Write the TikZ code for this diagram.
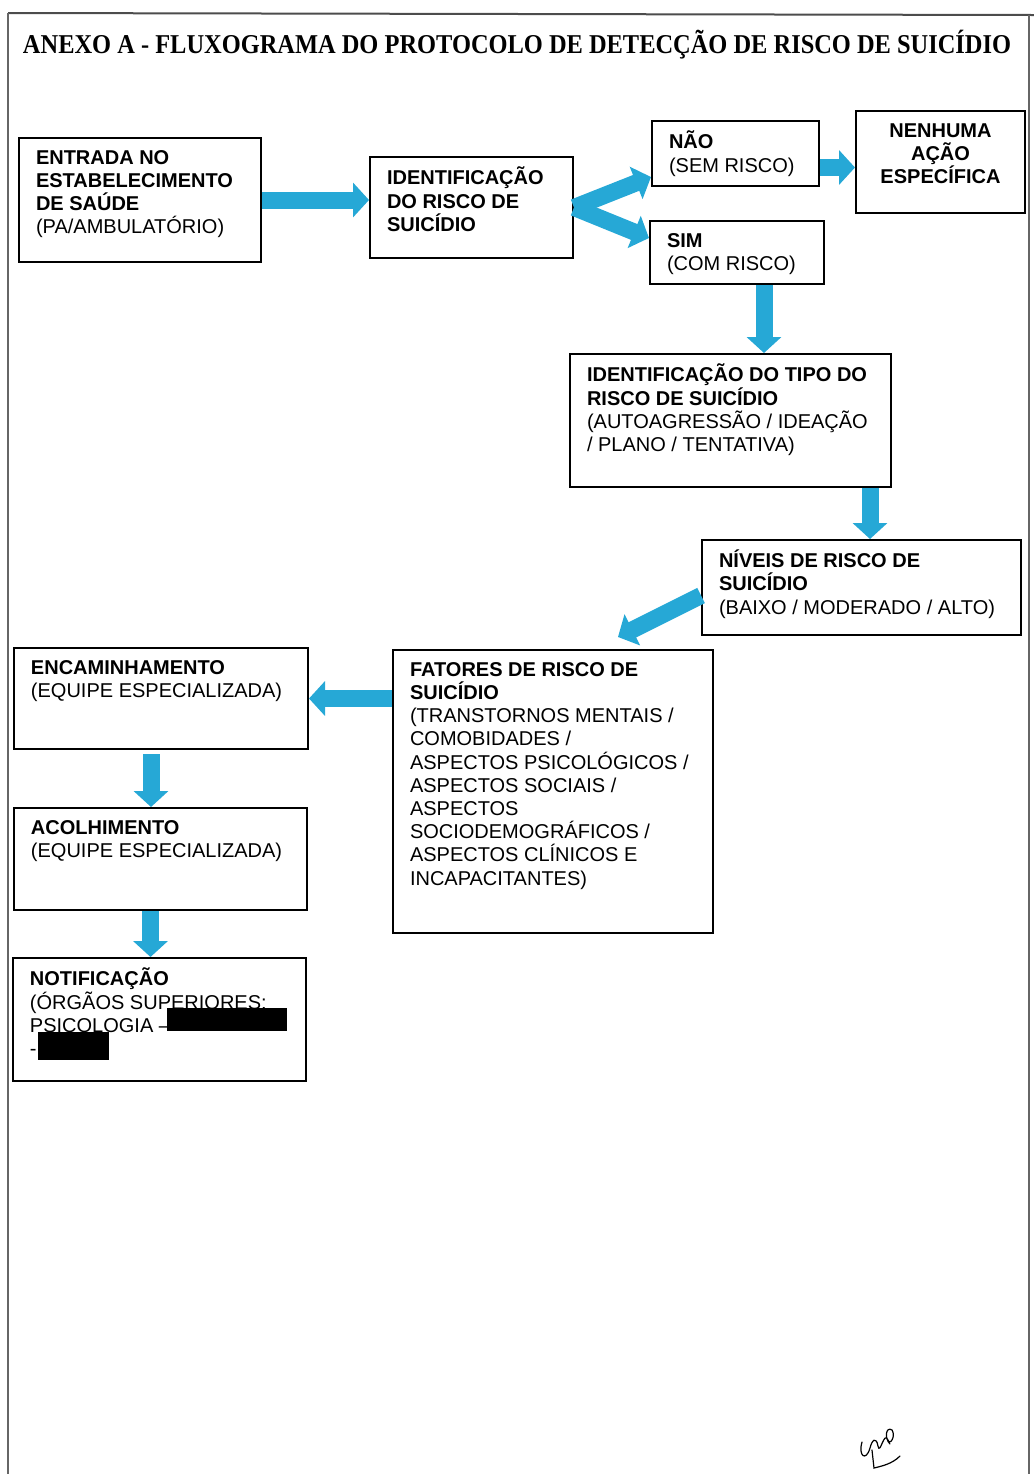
\documentclass[tikz,border=0pt]{standalone}
\usepackage{fontspec}
\usepackage{graphicx}
\setmainfont{Liberation Sans}
\newfontfamily\titlefont{Liberation Serif}
\usepackage{tikz}
\usetikzlibrary{arrows.meta, positioning, calc}
\definecolor{arrowblue}{RGB}{38,168,214}
\tikzset{> = { Triangle[length = 8pt, width = 17pt] }}
\tikzstyle{every path} = [ line width = 1pt ]
\tikzset{
	box/.style = { draw, rectangle, anchor = north west, inner xsep = 8.5pt, inner ysep = 5pt,
		font = \fontsize{10}{11.6}\selectfont },
	flow/.style = { ->, draw = arrowblue, line width = 8.5pt }
}
\newcommand{\boxtext}[3]{\parbox[t][#2][t]{#1}{\lineskiplimit=-8pt\raggedright\strut #3}}
\newcommand{\boxcentre}[3]{\parbox[t][#2][t]{#1}{\lineskiplimit=-8pt\centering\strut #3}}

\begin{document}
\begin{tikzpicture}[x = 0.5pt, y = -0.5pt]
	\useasboundingbox (0, 0) rectangle (1034, 1474);
	
	% Page frame.
	\draw [black!70] (8, 13) to (1034, 15);
	\draw [black!60] (8, 13) to (8, 1474);
	\draw [black!60] (1029, 15) to (1029, 1474);
	
	\node [anchor = base west, inner sep = 0pt, font = \titlefont\bfseries\fontsize{13.6}{16}\selectfont] (title) at (22, 53)
		{\scalebox{0.898}[1]{ANEXO A - FLUXOGRAMA DO PROTOCOLO DE DETECÇÃO DE RISCO DE SUICÍDIO}};
	
	% Boxes.
	\node [box] (entrada) at (18, 137) {\boxtext{104pt}{52pt}{\textbf{ENTRADA NO\\ ESTABELECIMENTO\\ DE SAÚDE}\\ (PA/AMBULATÓRIO)}};
	\node [box] (ident) at (369, 156) {\boxtext{84.5pt}{40.5pt}{\textbf{IDENTIFICAÇÃO\\ DO RISCO DE\\ SUICÍDIO}}};
	\node [box] (nao) at (651, 120) {\boxtext{66.5pt}{22.5pt}{\textbf{NÃO}\\ (SEM RISCO)}};
	\node [box] (nenhuma) at (855, 110) {\boxcentre{67.5pt}{41pt}{\textbf{NENHUMA\\ AÇÃO\\ ESPECÍFICA}}};
	\node [box] (sim) at (649, 220) {\boxtext{70pt}{21.5pt}{\textbf{SIM}\\ (COM RISCO)}};
	\node [box] (tipo) at (569, 353) {\boxtext{143.5pt}{56.5pt}{\textbf{IDENTIFICAÇÃO DO TIPO DO\\ RISCO DE SUICÍDIO}\\ (AUTOAGRESSÃO / IDEAÇÃO\\ / PLANO / TENTATIVA)}};
	\node [box] (niveis) at (701, 539) {\boxtext{142.5pt}{37.5pt}{\textbf{NÍVEIS DE RISCO DE\\ SUICÍDIO}\\ (BAIXO / MODERADO / ALTO)}};
	\node [box] (fatores) at (392, 649) {\boxtext{143pt}{131.5pt}{\textbf{FATORES DE RISCO DE\\ SUICÍDIO}\\ (TRANSTORNOS MENTAIS /\\ COMOBIDADES /\\ ASPECTOS PSICOLÓGICOS /\\ ASPECTOS SOCIAIS /\\ ASPECTOS\\ SOCIODEMOGRÁFICOS /\\ ASPECTOS CLÍNICOS E\\ INCAPACITANTES)}};
	\node [box] (enc) at (13, 647) {\boxtext{130pt}{40.5pt}{\textbf{ENCAMINHAMENTO}\\ (EQUIPE ESPECIALIZADA)}};
	\node [box] (acol) at (13, 807) {\boxtext{129.5pt}{41pt}{\textbf{ACOLHIMENTO}\\ (EQUIPE ESPECIALIZADA)}};
	\node [box] (notif) at (12, 957) {\boxtext{129.5pt}{51.5pt}{\textbf{NOTIFICAÇÃO}\\ (ÓRGÃOS SUPERIORES:\\ PSICOLOGIA --\\ -}};
	
	% Redacted parts.
	\fill (167, 1008) rectangle (287, 1031);
	\fill (38, 1032) rectangle (109, 1060);
	
	% Arrows.
	\draw [flow] (entrada.east) to (entrada.east -| ident.west);
	\draw [flow] (ident.east) to ([yshift = 5pt] nao.south west);
	\draw [flow] (ident.east) to ([yshift = -9pt] sim.north west);
	\draw [flow] ([yshift = -7pt] nao.east) to ([yshift = -7pt] nao.east -| nenhuma.west);
	\draw [flow] ([xshift = 13.5pt] sim.south) to ([xshift = 13.5pt] sim.south |- tipo.north);
	\draw [flow] ([xshift = -11pt] tipo.south east) to ([xshift = -11pt] tipo.south east |- niveis.north);
	
	\coordinate [xshift = 113pt, yshift = 6pt] (F) at (fatores.north west);
	\draw [flow] ([yshift = -4pt] niveis.west) to (F);
	
	\draw [flow] (enc.east -| fatores.west) to (enc.east);
	\draw [flow, shorten < = 2pt] ([xshift = -5pt] enc.south) to ([xshift = -5pt] enc.south |- acol.north);
	\draw [flow] ([xshift = -5pt] acol.south) to ([xshift = -5pt] acol.south |- notif.north);
	
	% Signature.
	\draw [line width = 0.6pt, line cap = round] (862, 1442)
		.. controls (858, 1456) and (866, 1462) .. (870, 1448)
		.. controls (872, 1440) and (876, 1436) .. (878, 1446)
		.. controls (880, 1456) and (884, 1430) .. (888, 1440)
		.. controls (890, 1446) and (896, 1436) .. (892, 1430)
		.. controls (886, 1426) and (884, 1438) .. (890, 1444);
	\draw [line width = 0.6pt, line cap = round] (872, 1450)
		to (874, 1468)
		.. controls (882, 1466) and (892, 1464) .. (900, 1456);
\end{tikzpicture}
\end{document}
